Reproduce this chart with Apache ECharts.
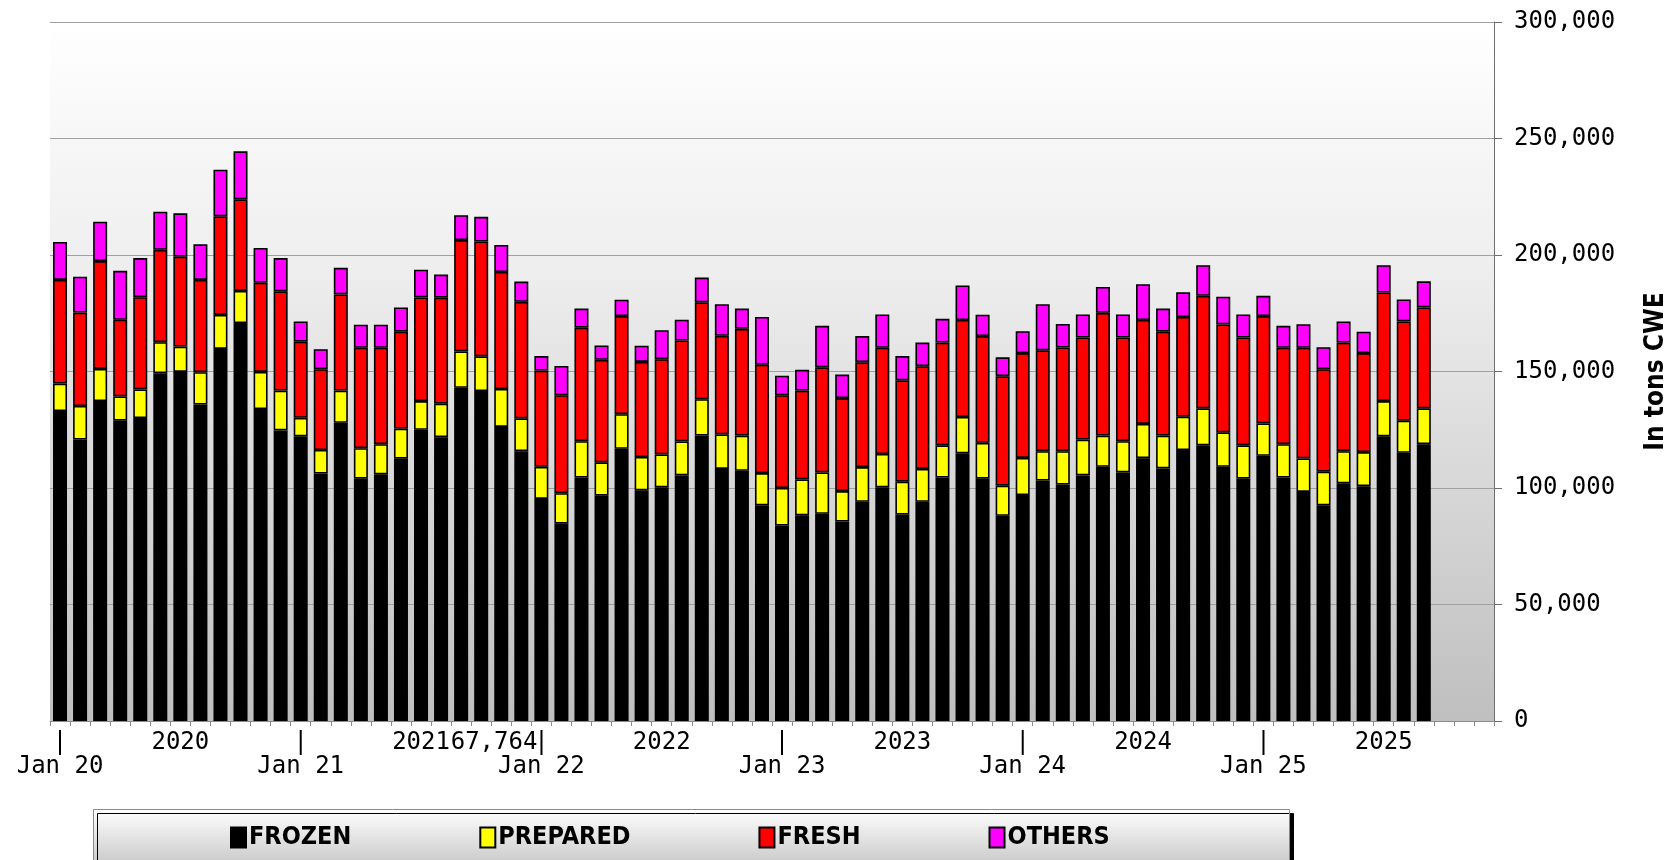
<!DOCTYPE html>
<html>
<head>
<meta charset="utf-8">
<script src="https://cdn.jsdelivr.net/npm/echarts@6/dist/echarts.min.js"></script>
<style>
  html, body { margin: 0; padding: 0; background: #fff; }
  #chart { width: 1668px; height: 860px; }
</style>
</head>
<body>
<div id="chart"></div>
<script>
const years = ['2020', '2021', '2022', '2023', '2024', '2025']
const monthNames = ['Jan', 'Feb', 'Mar', 'Apr', 'May', 'Jun', 'Jul', 'Aug', 'Sep', 'Oct', 'Nov', 'Dec']
const janLabels = ['Jan 20', 'Jan 21', 'Jan 22', 'Jan 23', 'Jan 24', 'Jan 25']
const yearLabels = ['2020', '2021', '2022', '2023', '2024', '2025']
const strayLabel = '67,764'
const strayIndex = 22

// monthly volumes, Jan 2020 - Sep 2025
const frozen = [
  133000, 120800, 137300, 128900, 130000, 149300, 149800, 135800, 159700, 170800, 133900, 124700,
  122200, 106200, 128000, 104000, 105900, 112600, 125000, 121800, 143000, 141600, 126200, 115800,
  95300, 84700, 104500, 96700, 116800, 99000, 100300, 105400, 122500, 108200, 107400, 92600,
  83900, 88300, 88900, 85600, 94100, 100300, 88600, 94100, 104500, 114900, 104000, 88100,
  97000, 103200, 101500, 105400, 109100, 106700, 112800, 108400, 116300, 118300, 109100, 104000,
  113800, 104500, 98300, 92600, 102000, 100800, 122200, 115100, 118800
]
const prepared = [
  11800, 14400, 13800, 10400, 12300, 13300, 10900, 13900, 14600, 13800, 15900, 17100,
  7900, 10100, 13800, 13100, 12900, 12900, 12300, 14400, 15600, 14900, 16300, 14100,
  13800, 13100, 15600, 14300, 14900, 14300, 14100, 14600, 15600, 14800, 15100, 13800,
  16100, 15400, 17800, 13100, 14900, 14300, 14100, 14100, 13800, 15600, 15400, 12900,
  15900, 12600, 14300, 15400, 13400, 13400, 14700, 14100, 14300, 15900, 14800, 14300,
  13900, 14300, 14400, 14400, 13800, 14600, 15100, 13800, 15400
]
const fresh = [
  44500, 40100, 46300, 32900, 39600, 39600, 38600, 39600, 42300, 39300, 38300, 42600,
  32700, 34700, 41300, 43100, 41400, 41600, 44500, 45500, 47800, 49300, 50200, 50000,
  41300, 42000, 48700, 44000, 42100, 40800, 40900, 43300, 41600, 42300, 45800, 46500,
  39800, 38100, 45100, 39900, 45000, 45600, 43500, 44100, 44100, 41600, 45800, 47000,
  45000, 43300, 44500, 43800, 52700, 44500, 44600, 44600, 42800, 48300, 46300, 46300,
  46100, 41400, 47500, 44000, 46600, 42500, 46600, 42600, 43300
]
const others = [
  16300, 15400, 16900, 21000, 16800, 16400, 18600, 15300, 20000, 20600, 14900, 14300,
  8700, 8600, 11400, 9900, 9900, 10400, 11900, 9900, 10700, 10600, 11600, 8700,
  6200, 12600, 8200, 6200, 7000, 7000, 12400, 8900, 10600, 13600, 8700, 20500,
  8400, 8900, 17800, 10100, 11200, 14300, 10400, 10100, 10200, 14800, 9200, 8100,
  9400, 19800, 10100, 9900, 11100, 9900, 15400, 9900, 10600, 13100, 11900, 9900,
  8700, 9400, 10100, 9400, 9100, 9200, 11700, 9400, 11200
]

const categories = []
years.forEach(y => monthNames.forEach(m => categories.push(m + ' ' + y)))

const monoFont = "'DejaVu Sans Mono', 'Liberation Mono', monospace"
const boldFont = "'DejaVu Sans Condensed', 'Liberation Sans Narrow', 'DejaVu Sans', sans-serif"

const chart = echarts.init(document.getElementById('chart'))

const barSeries = (name, data, color) => ({
  name,
  type: 'bar',
  stack: 'total',
  data,
  barWidth: 14,
  itemStyle: { color, borderColor: '#000', borderWidth: 1.6 },
  emphasis: { disabled: true }
})

chart.setOption({
  animation: false,
  backgroundColor: '#fff',
  grid: {
    left: 50,
    right: 174,
    top: 22,
    bottom: 139,
    outerBoundsMode: 'none',
    show: true,
    borderWidth: 0,
    backgroundColor: new echarts.graphic.LinearGradient(0, 0, 0, 1, [
      { offset: 0, color: '#ffffff' },
      { offset: 0.35, color: '#eeeeee' },
      { offset: 1, color: '#bfbfbf' }
    ])
  },
  graphic: [
    {
      type: 'rect',
      left: 93,
      top: 809,
      z: 0,
      shape: { width: 1196, height: 60 },
      style: {
        fill: new echarts.graphic.LinearGradient(0, 0, 0, 1, [
          { offset: 0, color: '#ffffff' },
          { offset: 1, color: '#c4c4c4' }
        ]),
        stroke: '#8a8a8a',
        lineWidth: 1,
        shadowColor: '#000',
        shadowOffsetX: 4,
        shadowOffsetY: 4,
        shadowBlur: 0
      }
    }
  ],
  legend: {
    left: 225,
    top: 820,
    itemGap: 128,
    itemWidth: 15,
    itemHeight: 20,
    icon: 'rect',
    itemStyle: { borderColor: '#000', borderWidth: 2 },
    textStyle: {
      fontFamily: boldFont,
      fontWeight: 'bold',
      fontSize: 25,
      color: '#000',
      padding: [0, 0, 0, -2]
    },
    data: ['FROZEN', 'PREPARED', 'FRESH', 'OTHERS']
  },
  xAxis: {
    type: 'category',
    data: categories,
    boundaryGap: true,
    axisLine: { lineStyle: { color: '#8c8c8c', width: 1 } },
    axisTick: { show: true, length: 5, interval: 0, lineStyle: { color: '#8c8c8c' } },
    axisLabel: {
      interval: 0,
      margin: 10,
      lineHeight: 24,
      fontFamily: monoFont,
      fontSize: 24,
      color: '#000',
      formatter: (value, idx) => {
        if (idx % 12 === 0) return '|\n' + janLabels[idx / 12]
        if (idx % 12 === 6) return yearLabels[(idx - 6) / 12] + '\n '
        // stray value label sits right against the 2021 year label
        if (idx === strayIndex) return strayLabel + ' \n '
        return ''
      }
    },
    splitLine: { show: false }
  },
  yAxis: {
    type: 'value',
    position: 'right',
    min: 0,
    max: 300000,
    interval: 50000,
    name: 'In tons CWE',
    nameLocation: 'middle',
    nameRotate: 90,
    nameGap: 149,
    nameTextStyle: { fontFamily: boldFont, fontWeight: 'bold', fontSize: 26, color: '#000' },
    axisLine: { show: true, lineStyle: { color: '#6e6e6e', width: 1 } },
    axisTick: { show: true, length: 8, lineStyle: { color: '#6e6e6e' } },
    axisLabel: {
      margin: 20,
      fontFamily: monoFont,
      fontSize: 24,
      color: '#000',
      formatter: v => v.toLocaleString('en-US')
    },
    splitLine: { show: true, lineStyle: { color: '#a0a0a0', width: 1 } }
  },
  series: [
    barSeries('FROZEN', frozen, '#000000'),
    barSeries('PREPARED', prepared, '#ffff00'),
    barSeries('FRESH', fresh, '#ff0000'),
    barSeries('OTHERS', others, '#ff00ff')
  ]
})

window.addEventListener('resize', () => chart.resize())
</script>
</body>
</html>
